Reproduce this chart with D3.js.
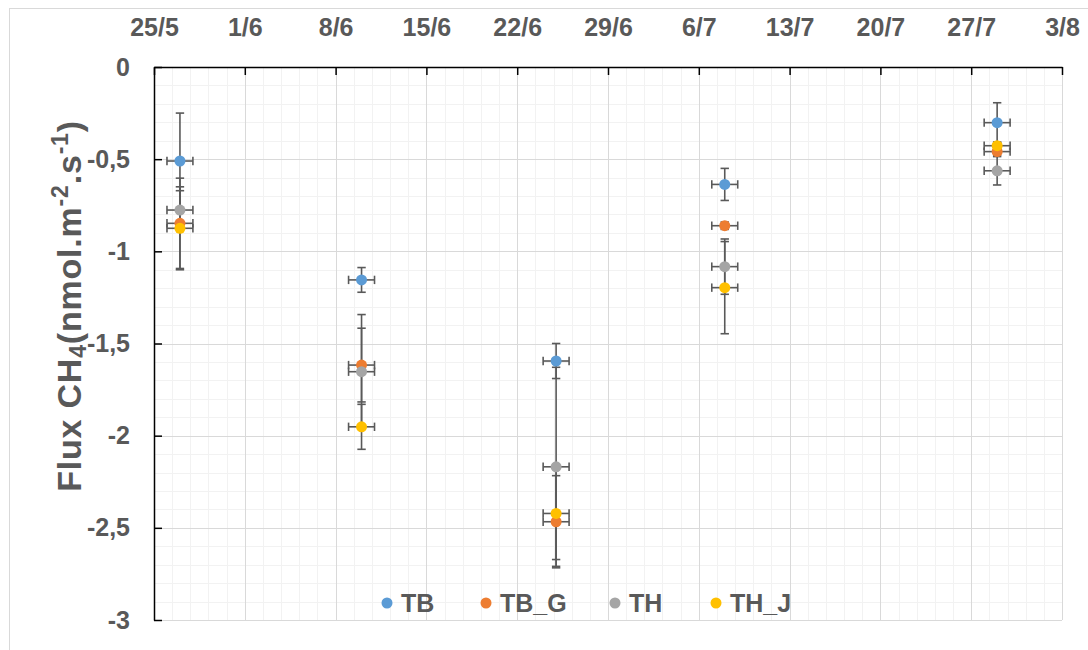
<!DOCTYPE html>
<html lang="fr">
<head>
  <meta charset="UTF-8">
  <title>Flux CH4</title>
  <script src="https://d3js.org/d3.v7.min.js"></script>
  <style>
    body {
      margin: 0;
      padding: 0;
      background-color: #fff;
      font-family: "Liberation Sans", Arial, sans-serif;
    }
    .tick text, .lab {
      font-weight: bold;
      fill: #595959;
    }
  </style>
</head>
<body>
  <svg id="chart"></svg>
  <script>
    // Sampling dates (day/month)
    const sampleDates = ["27/5", "10/6", "25/6", "8/7", "29/7"];
    const xTickLabels = ["25/5", "1/6", "8/6", "15/6", "22/6", "29/6", "6/7", "13/7", "20/7", "27/7", "3/8"];
    const yTicks = [0, -0.5, -1, -1.5, -2, -2.5, -3];

    const seriesNames = ["TB", "TB_G", "TH", "TH_J"];
    const seriesColors = ["#5B9BD5", "#ED7D31", "#A5A5A5", "#FFC000"];

    // Mean flux values
    const TB   = [-0.51, -1.155, -1.595, -0.637, -0.302];
    const TB_G = [-0.848, -1.617, -2.467, -0.861, -0.459];
    const TH   = [-0.776, -1.653, -2.169, -1.083, -0.563];
    const TH_J = [-0.875, -1.952, -2.422, -1.197, -0.427];

    // Vertical error (+/-)
    const TB_err   = [0.26, 0.067, 0.095, 0.087, 0.108];
    const TB_G_err = [0.245, 0.2, 0.25, 0.02, 0.02];
    const TH_err   = [0.105, 0.31, 0.54, 0.15, 0.077];
    const TH_J_err = [0.225, 0.122, 0.25, 0.25, 0.02];

    // Horizontal error in days
    const xErrDays = 1;

    const values = [TB, TB_G, TH, TH_J];
    const errors = [TB_err, TB_G_err, TH_err, TH_J_err];

    const W = 1088, H = 650;
    const mLeft = 154, mRight = 1062, mTop = 67, mBottom = 620;
    const DAY = 864e5;

    function parseDM(s) {
      const [d, m] = s.split("/").map(Number);
      return new Date(Date.UTC(2019, m - 1, d));
    }

    const svg = d3.select("#chart").attr("width", W).attr("height", H);

    // outer chart border
    svg.append("rect")
      .attr("x", 9.5).attr("y", 8.5)
      .attr("width", 1100).attr("height", 700)
      .attr("fill", "none").attr("stroke", "#d9d9d9");

    const tickDates = xTickLabels.map(parseDM);
    const x = d3.scaleUtc()
      .domain([tickDates[0], tickDates[tickDates.length - 1]])
      .range([mLeft, mRight]);
    const y = d3.scaleLinear().domain([-3, 0]).range([mBottom, mTop]);

    // minor grid (1.4 days, 0.1 units)
    const start = tickDates[0].getTime();
    const spanDays = (tickDates[tickDates.length - 1].getTime() - start) / DAY;
    const minorX = d3.range(0, spanDays + 0.001, 1.4).map(d => new Date(start + d * DAY));
    const minorY = d3.range(-3, 0.001, 0.1);

    const grid = svg.append("g");
    grid.selectAll(".mx").data(minorX).join("line")
      .attr("x1", d => Math.round(x(d)) + 0.5).attr("x2", d => Math.round(x(d)) + 0.5)
      .attr("y1", mTop).attr("y2", mBottom)
      .attr("stroke", "#f2f2f2");
    grid.selectAll(".my").data(minorY).join("line")
      .attr("x1", mLeft).attr("x2", mRight)
      .attr("y1", d => Math.round(y(d)) + 0.5).attr("y2", d => Math.round(y(d)) + 0.5)
      .attr("stroke", "#f2f2f2");
    // major grid
    const major = svg.append("g");
    major.selectAll("line.gx").data(tickDates).join("line")
      .attr("class", "gx")
      .attr("x1", d => Math.round(x(d)) + 0.5).attr("x2", d => Math.round(x(d)) + 0.5)
      .attr("y1", mTop).attr("y2", mBottom)
      .attr("stroke", "#d9d9d9");
    major.selectAll("line.gy").data(yTicks).join("line")
      .attr("class", "gy")
      .attr("x1", mLeft).attr("x2", mRight)
      .attr("y1", d => Math.round(y(d)) + 0.5).attr("y2", d => Math.round(y(d)) + 0.5)
      .attr("stroke", "#d9d9d9");

    // axes (ticks pointing inward)
    const xAxis = d3.axisTop(x)
      .tickValues(tickDates)
      .tickFormat((d, i) => xTickLabels[i])
      .tickSizeInner(-8).tickSizeOuter(0).tickPadding(31);
    const gx = svg.append("g").attr("transform", `translate(0,${mTop})`).call(xAxis);
    gx.select(".domain").attr("stroke", "#000").attr("stroke-width", 1.5);
    gx.selectAll(".tick line").attr("stroke", "#000").attr("stroke-width", 1.5);
    gx.selectAll(".tick text").attr("font-size", 25).attr("font-family", "Liberation Sans, Arial");

    const yAxis = d3.axisLeft(y)
      .tickValues(yTicks)
      .tickFormat(d => String(d).replace(".", ","))
      .tickSizeInner(-8).tickSizeOuter(0).tickPadding(24);
    const gy = svg.append("g").attr("transform", `translate(${mLeft},0)`).call(yAxis);
    gy.select(".domain").attr("stroke", "#000").attr("stroke-width", 1.5);
    gy.selectAll(".tick line").attr("stroke", "#000").attr("stroke-width", 1.5);
    gy.selectAll(".tick text").attr("font-size", 25).attr("font-family", "Liberation Sans, Arial");

    // y-axis title with subscript and superscripts
    const title = svg.append("text")
      .attr("class", "lab")
      .attr("transform", "translate(81,306) rotate(-90)")
      .attr("text-anchor", "middle")
      .attr("font-size", 34)
      .attr("letter-spacing", 0.8);
    title.append("tspan").text("Flux CH");
    title.append("tspan").attr("font-size", 23).attr("baseline-shift", "-20%").text("4");
    title.append("tspan").text("(nmol.m");
    title.append("tspan").attr("font-size", 23).attr("baseline-shift", "super").text("-2");
    title.append("tspan").text(".s");
    title.append("tspan").attr("font-size", 23).attr("baseline-shift", "super").text("-1");
    title.append("tspan").text(")");

    // points
    const points = [];
    values.forEach((vals, s) => {
      vals.forEach((v, i) => {
        points.push({ s, date: parseDM(sampleDates[i]), v, e: errors[s][i] });
      });
    });

    const cap = 4.2;
    const errG = svg.append("g")
      .attr("stroke", "#595959").attr("stroke-width", 1.6).attr("fill", "none");
    points.forEach(p => {
      const cx = x(p.date);
      const x0 = x(new Date(p.date.getTime() - xErrDays * DAY));
      const x1 = x(new Date(p.date.getTime() + xErrDays * DAY));
      const cy = y(p.v), y0 = y(p.v + p.e), y1 = y(p.v - p.e);
      errG.append("line").attr("x1", cx).attr("x2", cx).attr("y1", y0).attr("y2", y1);
      errG.append("line").attr("x1", cx - cap).attr("x2", cx + cap).attr("y1", y0).attr("y2", y0);
      errG.append("line").attr("x1", cx - cap).attr("x2", cx + cap).attr("y1", y1).attr("y2", y1);
      errG.append("line").attr("x1", x0).attr("x2", x1).attr("y1", cy).attr("y2", cy);
      errG.append("line").attr("x1", x0).attr("x2", x0).attr("y1", cy - cap).attr("y2", cy + cap);
      errG.append("line").attr("x1", x1).attr("x2", x1).attr("y1", cy - cap).attr("y2", cy + cap);
    });

    svg.append("g").selectAll("circle").data(points).join("circle")
      .attr("cx", d => x(d.date))
      .attr("cy", d => y(d.v))
      .attr("r", 5.5)
      .attr("fill", d => seriesColors[d.s]);

    // legend inside plot, bottom
    const legendX = [387, 486, 615, 716];
    const lg = svg.append("g");
    seriesNames.forEach((name, i) => {
      lg.append("circle").attr("cx", legendX[i]).attr("cy", 603).attr("r", 5.5).attr("fill", seriesColors[i]);
      lg.append("text").attr("class", "lab")
        .attr("x", legendX[i] + 14).attr("y", 612)
        .attr("font-size", 25)
        .text(name);
    });
  </script>
</body>
</html>
